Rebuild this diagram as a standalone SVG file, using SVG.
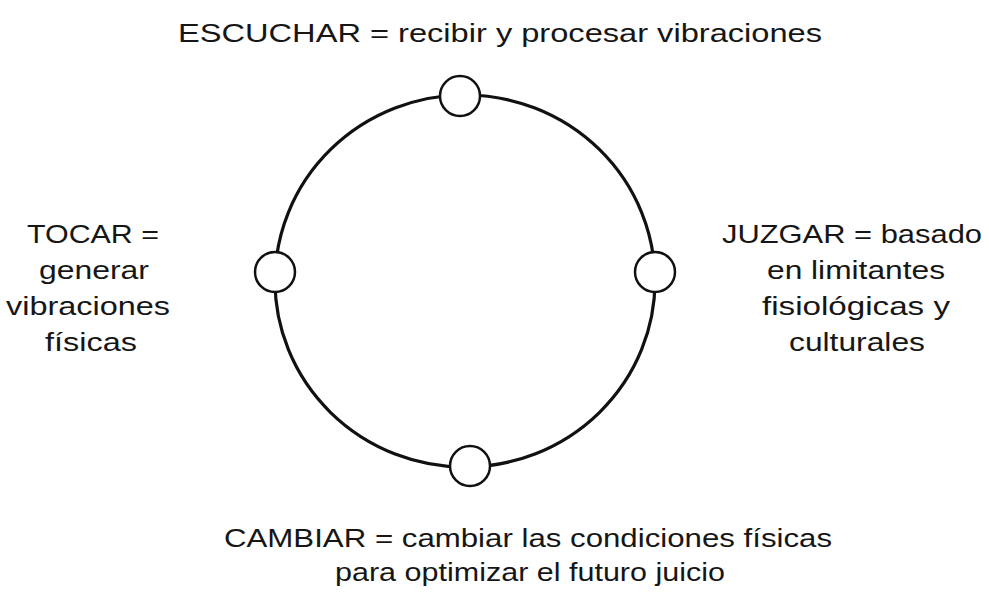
<svg xmlns="http://www.w3.org/2000/svg" width="989" height="594" viewBox="0 0 989 594">
<style>
.lbl{font-family:"Liberation Sans",Arial,sans-serif;font-size:26px;fill:#161616;text-anchor:middle}
.node{fill:#fff;stroke:#111;stroke-width:2.5}
.ring{fill:none;stroke:#111;stroke-width:3.2}
</style>
<rect width="989" height="594" fill="#fff"/>
<g id="connectors">
<ellipse class="ring" cx="465" cy="281" rx="190" ry="186"/>
</g>
<g id="escuchar">
<circle class="node" cx="460" cy="96" r="20"/>
<text class="lbl" x="500" y="42" textLength="644" lengthAdjust="spacingAndGlyphs">ESCUCHAR = recibir y procesar vibraciones</text>
</g>
<g id="tocar">
<circle class="node" cx="275" cy="272" r="20"/>
<text class="lbl" x="93" y="243" textLength="132" lengthAdjust="spacingAndGlyphs">TOCAR =</text>
<text class="lbl" x="94" y="279" textLength="110" lengthAdjust="spacingAndGlyphs">generar</text>
<text class="lbl" x="88" y="315" textLength="164" lengthAdjust="spacingAndGlyphs">vibraciones</text>
<text class="lbl" x="91" y="351" textLength="92" lengthAdjust="spacingAndGlyphs">físicas</text>
</g>
<g id="juzgar">
<circle class="node" cx="655" cy="272" r="20"/>
<text class="lbl" x="852" y="243" textLength="260" lengthAdjust="spacingAndGlyphs">JUZGAR = basado</text>
<text class="lbl" x="856" y="279" textLength="178" lengthAdjust="spacingAndGlyphs">en limitantes</text>
<text class="lbl" x="856" y="315" textLength="188" lengthAdjust="spacingAndGlyphs">fisiológicas y</text>
<text class="lbl" x="857" y="351" textLength="136" lengthAdjust="spacingAndGlyphs">culturales</text>
</g>
<g id="cambiar">
<circle class="node" cx="470" cy="466" r="20"/>
<text class="lbl" x="528" y="547" textLength="608" lengthAdjust="spacingAndGlyphs">CAMBIAR = cambiar las condiciones físicas</text>
<text class="lbl" x="530" y="581" textLength="390" lengthAdjust="spacingAndGlyphs">para optimizar el futuro juicio</text>
</g>
</svg>
